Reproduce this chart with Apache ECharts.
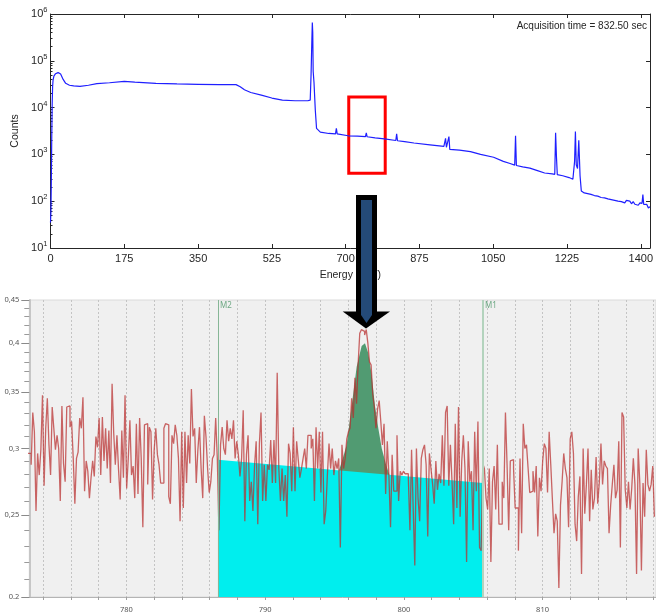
<!DOCTYPE html>
<html><head><meta charset="utf-8">
<script src="https://cdn.jsdelivr.net/npm/echarts@6/dist/echarts.min.js"></script>
<style>html,body{margin:0;padding:0;background:#fff}#c{width:656px;height:614px}</style>
</head><body><div id="c"></div>
<script>
// ---------- Top chart: full gamma spectrum ----------
const topEnergy = [0,1,2,3,4,5,6,8,12,18,24,30,36,45,55,70,90,110,140,175,200,250,300,350,400,440,450,460,475,500,525,550,580,610,616,618,620,621,622,623,625,628,631,640,660,676,678,680,706,728,747,749,751,770,792,819,821,823,840,862,900,933,935,937,939,943,945,947,970,996,1020,1051,1074,1090,1101,1103,1105,1120,1137,1155,1172,1190,1196,1198,1200,1202,1215,1230,1239,1243,1245,1247,1250,1253,1256,1259,1262,1266,1270,1274,1278,1282,1286,1290,1294,1298,1302,1306,1310,1314,1318,1322,1326,1330,1334,1338,1342,1346,1350,1354,1358,1362,1366,1370,1374,1378,1382,1386,1390,1394,1398,1401,1403,1405,1407,1410,1414,1418,1422];
const topCounts = [35,60,300,2500,12000,28000,38000,47000,53000,56000,52000,40000,33000,30000,29000,28500,30000,32500,34000,36500,35000,33000,32000,31500,31000,31000,28000,24000,21000,18500,16000,14500,14000,14000,14500,50000,300000,660000,400000,60000,34000,9000,3600,3000,2800,2750,3600,2750,2500,2450,2400,2900,2380,2250,2150,1980,2750,1960,1880,1750,1600,1480,1450,2200,1420,1400,2400,1280,1230,1150,1000,870,710,640,590,2500,580,540,510,450,400,385,375,2900,900,370,350,320,295,700,3100,600,500,2000,350,165,175,150,165,145,158,140,150,132,145,128,138,120,132,118,126,112,122,108,118,104,112,100,110,98,106,92,104,95,100,88,98,86,94,82,92,85,90,138,85,80,86,72,76];
const topXTicks = [0,175,350,525,700,875,1050,1225,1400];
const topYTicks = [10,100,1000,10000,100000,1000000];
const topYMinorTicks = [20,30,40,50,60,70,80,90,200,300,400,500,600,700,800,900,2000,3000,4000,5000,6000,7000,8000,9000,20000,30000,40000,50000,60000,70000,80000,90000,200000,300000,400000,500000,600000,700000,800000,900000];
const boxEnergy = [707.4, 793.9];
const boxCounts = [16940, 396];

// ---------- Bottom chart: zoomed region ----------
const binStart = 772.9, binWidth = 0.1167;
const zoomCounts = [
0.296,0.296,0.287,0.331,0.314,0.253,0.296,0.279,0.299,0.347,
0.271,0.317,0.344,0.303,0.279,0.336,0.317,0.299,0.311,0.300,
0.260,0.337,0.288,0.274,0.336,0.337,0.318,0.323,0.292,0.258,
0.292,0.297,0.326,0.317,0.345,0.267,0.290,0.282,0.262,0.277,
0.290,0.278,0.310,0.301,0.326,0.279,0.327,0.290,0.317,0.284,
0.315,0.273,0.358,0.313,0.287,0.311,0.283,0.261,0.315,0.277,
0.347,0.269,0.292,0.324,0.279,0.286,0.262,0.321,0.265,0.326,
0.292,0.242,0.320,0.321,0.272,0.318,0.314,0.261,0.299,
0.317,0.295,0.287,0.273,0.273,0.317,0.321,0.320,0.263,0.258,
0.311,0.304,0.320,0.311,0.292,0.246,0.314,0.255,0.314,0.273,
0.311,0.288,0.353,0.310,0.317,0.273,0.299,0.318,0.284,0.262,
0.328,0.310,0.284,0.266,0.274,0.292,0.295,0.326,0.292,0.240,
0.303,0.318,0.300,0.295,0.324,0.306,0.317,0.308,0.324,0.292,
0.306,0.295,0.278,0.292,0.333,0.246,0.295,0.311,0.260,0.274,
0.253,0.286,0.306,0.244,0.304,0.331,0.260,0.287,0.260,0.287,
0.283,0.307,0.273,0.307,0.273,0.369,0.284,0.260,
0.284,0.260,0.279,0.249,0.304,0.296,0.267,0.318,0.267,0.306,
0.291,0.277,0.284,0.292,0.300,0.284,0.311,0.311,0.300,0.308,
0.260,0.318,0.284,0.314,0.266,0.314,0.244,0.253,0.279,0.304,
0.284,0.300,0.279,0.290,0.284,0.292,0.229,0.303,0.284,0.292,
0.308,0.314,0.317,0.344,0.326,0.364,0.339,0.378,0.411,0.415,
0.413,0.409,0.415,0.400,0.380,0.377,0.348,0.336,0.317,0.334,
0.342,0.323,0.303,0.321,0.265,0.306,0.279,0.242,0.295,0.267,
0.267,0.311,0.260,0.282,0.279,0.282,0.280,
0.280,0.277,0.240,0.299,0.255,0.218,0.300,0.262,0.246,0.292,
0.299,0.303,0.287,0.236,0.296,0.284,0.272,0.258,0.290,0.268,
0.280,0.273,0.311,0.271,0.331,0.337,0.271,0.303,0.274,0.244,
0.321,0.255,0.336,0.249,0.290,0.311,0.284,0.220,0.306,0.274,
0.282,0.240,0.314,0.267,0.323,0.229,0.227,0.288,0.284,0.262,
0.254,0.284,0.220,0.274,0.286,0.254,0.303,0.244,0.244,0.274,
0.262,0.331,0.287,0.240,0.290,0.291,0.284,0.255,0.255,0.227,
0.292,0.238,0.321,0.300,0.303,0.284,0.266,0.267,
0.282,0.266,0.286,0.236,0.277,0.267,0.290,0.304,0.300,0.266,
0.314,0.287,0.261,0.238,0.251,0.246,0.205,0.257,0.274,0.296,
0.284,0.277,0.242,0.308,0.314,0.296,0.244,0.233,0.263,0.278,
0.213,0.300,0.251,0.272,0.300,0.246,0.283,0.254,0.262,0.293,
0.258,0.274,0.304,0.272,0.290,0.286,0.284,0.238,0.257,0.272,
0.287,0.262,0.268,0.306,0.229,0.331,0.327,0.268,0.255,0.274,
0.254,0.269,0.292,0.272,0.213,0.300,0.273,0.215,0.273,0.249,
0.299,0.272,0.267,0.272,0.286,0.249
];
const peakEnergy = [795.28,795.6,795.88,796.24,796.6,796.96,797.2,797.44,797.69,797.92,798.16,798.41,798.72,799.0];
const peakCounts = [0.281,0.292,0.303,0.337,0.375,0.397,0.400,0.389,0.366,0.337,0.317,0.300,0.287,0.278];
const markerEnergy = [786.6, 805.7];      // M2, M1
const markerNames = ['M2', 'M1'];
const baseCounts = [0.291, 0.273];         // background line between markers
const zoomXTicks = [774,776,778,780,782,784,786,788,790,792,794,796,798,800,802,804,806,808,810,812,814,816,818];
const zoomXLabels = [780,790,800,810];
const zoomYTicks = [0.2,0.25,0.3,0.35,0.4,0.45];
const zoomYMinorTicks = [0.21,0.22,0.23,0.24,0.26,0.27,0.28,0.29,0.31,0.32,0.33,0.34,0.36,0.37,0.38,0.39,0.41,0.42,0.43,0.44];

const AX = '#262626';
const TF = 'Liberation Sans, Arial, sans-serif';
const BF = 'Noto Sans, Open Sans, sans-serif';

const chart = echarts.init(document.getElementById('c'), null, {renderer: 'canvas'});
const option = {
  animation: false,
  backgroundColor: '#ffffff',
  grid: [
    {left: 50.5, top: 14, width: 603.5, height: 234},
    {left: 29.3, top: 300, right: 0, bottom: 11, show: true, backgroundColor: '#f0f0f0', borderColor: '#dadada', borderWidth: 1}
  ],
  xAxis: [
    {gridIndex: 0, type: 'value', min: 0, max: 1422, position: 'bottom',
     axisLine: {lineStyle: {color: AX, width: 1}},
     axisTick: {inside: true, length: 4, customValues: topXTicks, lineStyle: {color: AX}},
     axisLabel: {customValues: topXTicks, margin: 5, fontSize: 11, color: AX, fontFamily: TF, formatter: v => String(v)},
     splitLine: {show: false},
     name: 'Energy (keV)', nameLocation: 'middle', nameGap: 22,
     nameTextStyle: {fontSize: 10.5, color: AX, fontFamily: TF}},
    {gridIndex: 0, type: 'value', min: 0, max: 1422, position: 'top',
     axisLine: {lineStyle: {color: AX, width: 1}},
     axisTick: {inside: true, length: 4, customValues: topXTicks, lineStyle: {color: AX}},
     axisLabel: {show: false}, splitLine: {show: false}},
    {gridIndex: 1, type: 'value', min: 773, max: 818.18, position: 'bottom',
     axisLine: {lineStyle: {color: '#b4b4b4', width: 1}},
     axisTick: {customValues: zoomXTicks, length: 3, lineStyle: {color: '#a0a0a0'}},
     axisLabel: {customValues: zoomXLabels, margin: 9, fontSize: 7.5, color: '#555', fontFamily: BF, formatter: v => String(v)},
     splitLine: {show: true, lineStyle: {color: '#c4c4c4', type: [2, 2], width: 1}}}
  ],
  yAxis: [
    {gridIndex: 0, type: 'log', logBase: 10, min: 10, max: 1000000, position: 'left',
     axisLine: {show: true, lineStyle: {color: AX, width: 1}},
     axisTick: {show: true, inside: true, length: 4, customValues: topYTicks, lineStyle: {color: AX}},
     axisLabel: {customValues: topYTicks, margin: 3, color: AX, fontFamily: TF, fontSize: 11,
       formatter: v => '10{s|' + Math.round(Math.log10(v)) + '}',
       rich: {s: {fontSize: 7.5, fontFamily: TF, color: AX, padding: [0, 0, 8, 0]}}},
     splitLine: {show: false},
     name: 'Counts', nameLocation: 'middle', nameGap: 30, nameRotate: 90,
     nameTextStyle: {fontSize: 10.5, color: AX, fontFamily: TF}},
    {gridIndex: 0, type: 'log', logBase: 10, min: 10, max: 1000000, position: 'left',
     axisLine: {show: false},
     axisTick: {show: true, inside: true, length: 2, customValues: topYMinorTicks, lineStyle: {color: AX}},
     axisLabel: {show: false}, splitLine: {show: false}},
    {gridIndex: 0, type: 'log', logBase: 10, min: 10, max: 1000000, position: 'right',
     axisLine: {show: true, lineStyle: {color: AX, width: 1}},
     axisTick: {show: true, inside: true, length: 4, customValues: topYTicks, lineStyle: {color: AX}},
     axisLabel: {show: false}, splitLine: {show: false}},
    {gridIndex: 1, type: 'log', logBase: 10, min: 0.2, max: 0.45, position: 'left',
     axisLine: {show: true, lineStyle: {color: '#c6c6c6', width: 2}},
     axisTick: {show: true, length: 8, customValues: zoomYTicks, lineStyle: {color: '#8a8a8a'}},
     axisLabel: {customValues: zoomYTicks, margin: 10, fontSize: 7.5, color: '#555', fontFamily: BF,
       formatter: v => { const r = Math.round(v * 100) / 100; return r === 0.2 ? '0.2' : String(r).replace('.', ','); }},
     splitLine: {show: false}},
    {gridIndex: 1, type: 'log', logBase: 10, min: 0.2, max: 0.45, position: 'left',
     axisLine: {show: false},
     axisTick: {show: true, length: 5, customValues: zoomYMinorTicks, lineStyle: {color: '#9a9a9a'}},
     axisLabel: {show: false}, splitLine: {show: false}}
  ],
  series: [
    {type: 'line', xAxisIndex: 0, yAxisIndex: 0, showSymbol: false, symbol: 'none',
     data: topEnergy.map((e, i) => [e, topCounts[i]]),
     lineStyle: {color: '#1f1fff', width: 1.2},
     markArea: {silent: true,
       itemStyle: {color: 'rgba(0,0,0,0)', borderColor: '#ff0000', borderWidth: 3},
       data: [[{xAxis: boxEnergy[0], yAxis: boxCounts[0]}, {xAxis: boxEnergy[1], yAxis: boxCounts[1]}]]}},
    {type: 'line', xAxisIndex: 2, yAxisIndex: 3, z: 2, showSymbol: false, symbol: 'none',
     data: peakEnergy.map((e, i) => [e, peakCounts[i]]),
     lineStyle: {width: 0, opacity: 0},
     areaStyle: {color: '#519b72', opacity: 1, origin: 'start'},
     markLine: {silent: true, symbol: ['none', 'none'], label: {show: false},
       data: [
         {xAxis: markerEnergy[0], lineStyle: {color: '#86b696', width: 1, type: 'solid'}},
         {xAxis: markerEnergy[1], lineStyle: {color: '#b3d3bd', width: 2, type: 'solid'}}
       ]},
     markPoint: {silent: true, symbol: 'rect', symbolSize: 0,
       label: {show: true, position: 'right', distance: 2, fontSize: 8, color: '#6fa985', fontFamily: BF,
         formatter: p => p.name},
       data: markerNames.map((n, i) => ({name: n, coord: [markerEnergy[i], 0.443]}))}},
    {type: 'line', xAxisIndex: 2, yAxisIndex: 3, z: 3, showSymbol: false, symbol: 'none',
     data: markerEnergy.map((e, i) => [e, baseCounts[i]]),
     lineStyle: {width: 0, opacity: 0},
     areaStyle: {color: '#00eeee', opacity: 1, origin: 'start'}},
    {type: 'line', xAxisIndex: 2, yAxisIndex: 3, z: 4, showSymbol: false, symbol: 'none', step: 'end',
     data: zoomCounts.map((v, i) => [binStart + i * binWidth, v]),
     lineStyle: {color: 'rgba(185,45,45,0.72)', width: 1.3}}
  ],
  graphic: [
    {type: 'text', x: 647, y: 26, z: 50,
     style: {text: 'Acquisition time = 832.50 sec', textAlign: 'right', textVerticalAlign: 'middle',
       font: '10px Liberation Sans, Arial, sans-serif', fill: AX}},
    {type: 'rect', z: 100, shape: {x: 356, y: 195, width: 21, height: 118}, style: {fill: '#000'}},
    {type: 'rect', z: 101, shape: {x: 361, y: 200, width: 11, height: 113}, style: {fill: '#244a78'}},
    {type: 'polygon', z: 100, shape: {points: [[342.7, 311.5], [390, 311.5], [366, 328.5]]}, style: {fill: '#000'}},
    {type: 'polygon', z: 101, shape: {points: [[361, 311], [372, 311], [372, 315], [366.5, 323], [361, 315]]}, style: {fill: '#244a78'}}
  ]
};
chart.setOption(option);
</script>
</body></html>
